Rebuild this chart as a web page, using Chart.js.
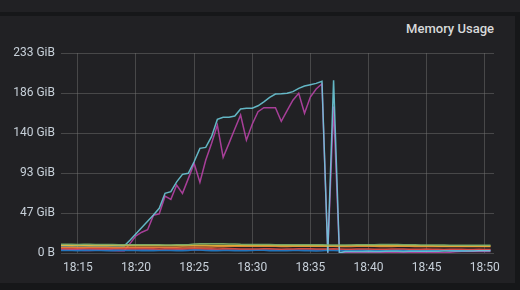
<!DOCTYPE html>
<html>
<head>
<meta charset="utf-8">
<script src="https://cdn.jsdelivr.net/npm/chart.js@4/dist/chart.umd.min.js"></script>
<style>
  html,body{margin:0;padding:0;background:#161719;width:520px;height:290px;overflow:hidden;}
  #topband{position:absolute;left:0;top:0;width:520px;height:12px;background:#212124;}
  #panel{position:absolute;left:0;top:16px;width:515px;height:267px;background:#212124;}
  #title{position:absolute;right:26px;top:21px;font-family:Roboto,"Noto Sans",sans-serif;font-size:13px;font-weight:500;color:#d8d9da;}
  #wrap{position:absolute;left:0;top:0;width:520px;height:290px;}
</style>
</head>
<body>
<div id="topband"></div>
<div id="panel"></div>
<div id="title">Memory Usage</div>
<div id="wrap"><canvas id="c" width="520" height="290"></canvas></div>
<script>
// sample times (30 s scrape interval)
const times = [
 '18:13:30','18:14:00','18:14:30','18:15:00','18:15:30','18:16:00','18:16:30','18:17:00','18:17:30','18:18:00',
 '18:18:30','18:19:00','18:19:30','18:20:00','18:20:30','18:21:00','18:21:30','18:22:00','18:22:30','18:23:00',
 '18:23:30','18:24:00','18:24:30','18:25:00','18:25:30','18:26:00','18:26:30','18:27:00','18:27:30','18:28:00',
 '18:28:30','18:29:00','18:29:30','18:30:00','18:30:30','18:31:00','18:31:30','18:32:00','18:32:30','18:33:00',
 '18:33:30','18:34:00','18:34:30','18:35:00','18:35:30','18:36:00','18:36:30','18:37:00','18:37:30','18:38:00',
 '18:38:30','18:39:00','18:39:30','18:40:00','18:40:30','18:41:00','18:41:30','18:42:00','18:42:30','18:43:00',
 '18:43:30','18:44:00','18:44:30','18:45:00','18:45:30','18:46:00','18:46:30','18:47:00','18:47:30','18:48:00',
 '18:48:30','18:49:00','18:49:30','18:50:00','18:50:30'
];
const tickLabels = ['18:15','18:20','18:25','18:30','18:35','18:40','18:45','18:50'];
const yTicksGB = [0, 50, 100, 150, 200, 250]; // decimal GB, shown in GiB

// memory usage per series, in GB (1e9 bytes)
const seriesA = [ // green
 10.8,10.9,10.8,10.7,10.8,10.8,10.7,10.6,10.6,10.5,10.4,10.4,10.3,10.3,10.2,10.2,10.3,10.2,10.1,10.1,10.2,10.3,10.4,
 11.4,11.6,11.7,11.6,11.5,11.5,11.4,11.2,
 10.8,10.7,10.6,10.6,10.5,10.5,10.4,10.4,10.4,10.3,10.3,10.3,10.2,10.2,10.2,10.1,10.1,10.0,10.0,10.1,10.2,10.3,10.4,10.4,
 10.5,10.6,10.6,10.5,10.4,10.3,10.2,10.1,10.0,10.0,9.9,9.9,9.8,9.8,9.8,9.7,9.7,9.7,9.6,9.6
];
const seriesB = [ // yellow
 9.6,9.6,9.5,9.5,9.5,9.4,9.4,9.4,9.5,9.5,9.4,9.4,9.4,9.3,9.3,9.3,9.4,9.4,9.4,9.5,9.5,9.5,9.6,9.6,9.6,
 9.6,9.5,9.5,9.5,9.4,9.4,9.4,9.4,9.3,9.3,9.3,9.3,9.3,9.2,9.2,9.2,9.2,9.2,9.2,9.1,9.1,9.1,9.1,9.2,9.2,
 9.3,9.3,9.3,9.3,9.2,9.2,9.2,9.1,9.1,9.1,9.0,9.0,9.0,9.0,9.0,8.9,8.9,8.9,8.9,8.9,8.8,8.8,8.8,8.8,8.8
];
const seriesC = [ // teal
 9.2,9.2,9.1,9.2,9.3,9.2,9.2,9.1,9.2,9.2,9.2,
 9.1,16.2,24.2,32.0,39.6,47.5,55.8,74.6,76.7,89.0,98.3,99.6,114.0,130.8,132.0,145.4,167.0,169.6,169.6,171.2,
 180.0,180.8,181.0,184.0,189.0,194.6,198.7,199.0,199.6,201.7,205.8,208.7,210.4,212.0,214.6,0.3,216.0,0.3,
 1.8,1.9,2.0,2.0,2.1,2.0,2.0,2.1,2.2,2.1,2.0,2.1,2.2,2.2,2.3,2.2,2.3,2.4,2.4,2.5,2.5,2.6,2.6,2.7,2.8,2.8
];
const seriesD = [ // orange
 7.2,7.1,7.1,7.0,7.0,7.1,7.2,7.2,7.1,7.0,7.0,7.1,7.1,7.2,7.2,7.3,7.3,7.2,7.2,7.3,7.3,7.4,7.4,7.5,7.5,
 7.6,7.6,7.7,7.8,8.2,8.3,8.3,8.3,8.4,8.4,8.3,8.3,8.3,8.2,8.2,8.3,8.3,8.4,8.4,8.4,8.3,8.3,8.3,8.2,8.2,
 8.2,8.3,8.3,8.3,8.3,8.2,8.2,8.2,8.3,8.3,8.3,8.2,8.2,8.2,8.2,8.1,8.1,8.1,8.1,8.1,8.0,8.0,8.0,8.0,8.0
];
const seriesE = [ // red
 5.6,5.4,5.3,5.5,5.8,5.6,5.3,5.2,5.4,5.6,5.5,5.3,5.2,5.4,5.6,5.5,5.3,5.1,5.2,5.4,5.5,5.3,5.6,5.9,5.6,
 5.4,5.2,5.0,5.2,5.4,5.3,5.1,5.0,4.9,5.1,5.3,5.2,5.0,4.8,4.9,5.1,5.3,5.4,5.2,5.0,4.9,5.1,5.2,5.0,4.8,
 4.7,4.9,5.1,5.0,4.8,4.7,4.8,5.0,5.1,4.9,4.7,4.6,4.8,4.9,4.8,4.6,4.5,4.7,4.8,4.6,4.5,4.5,4.6,4.5,4.5
];
const seriesF = [ // blue
 3.2,3.3,3.1,2.9,3.0,3.2,3.4,3.1,2.8,2.9,3.0,3.1,3.3,3.0,2.8,2.8,2.9,3.1,3.4,3.2,2.9,2.8,3.0,4.2,3.6,
 3.0,2.8,2.9,3.2,3.0,2.8,2.7,2.8,3.1,3.6,3.3,2.9,2.8,2.7,2.8,3.0,3.2,2.9,2.7,2.6,2.8,3.5,3.0,2.8,2.7,
 2.8,3.0,3.4,3.1,2.8,2.7,2.9,3.3,3.8,3.3,2.9,2.7,2.6,2.8,3.0,3.4,3.7,3.3,3.0,2.9,3.1,3.4,3.6,3.5,3.6
];
const seriesG = [ // magenta
 3.5,3.8,4.0,3.6,3.2,3.0,3.4,3.9,3.5,3.0,2.8,
 2.8,12.0,21.5,26.0,29.0,47.0,49.0,71.0,67.0,85.0,74.6,93.0,112.0,88.5,116.0,137.0,160.0,119.6,137.0,155.0,
 172.5,141.0,161.0,176.6,181.6,181.6,181.6,164.6,178.0,191.0,199.6,174.6,195.0,205.0,211.5,0.2,183.0,0.2,
 0.3,0.3,0.3,0.3,0.3,0.3,0.3,0.3,0.3,0.3,0.3,0.3,0.3,0.3,0.3,0.3,0.3,0.3,1.0,1.6,1.8,1.8,1.8,1.8,1.9,1.9
];
const seriesH = [ // purple
 4.2,4.1,4.0,4.1,4.2,4.1,4.0,3.9,4.0,4.1,4.1,4.0,3.9,3.9,4.0,4.1,4.0,3.9,3.8,3.9,4.0,4.0,3.9,3.8,3.8,
 3.9,4.0,3.9,3.8,3.7,3.8,3.9,3.9,3.8,3.7,3.7,3.8,3.8,3.7,3.6,3.7,3.8,3.7,3.6,3.6,3.7,3.7,3.6,3.6,3.5,
 3.6,3.7,3.6,3.5,3.5,3.6,3.6,3.5,3.4,3.5,3.6,3.5,3.4,3.4,3.5,3.5,3.4,3.3,3.4,3.5,3.4,3.3,3.3,3.4,3.4
];

const seriesList = [
  {name:'A', data:seriesA, color:'rgba(126,178,109,0.9)'},
  {name:'B', data:seriesB, color:'rgba(234,184,57,0.9)'},
  {name:'C', data:seriesC, color:'rgba(110,208,224,0.85)'},
  {name:'D', data:seriesD, color:'rgba(239,132,60,0.9)'},
  {name:'E', data:seriesE, color:'rgba(226,77,66,0.9)'},
  {name:'F', data:seriesF, color:'rgba(31,120,193,0.95)'},
  {name:'G', data:seriesG, color:'rgba(186,67,169,0.88)'},
  {name:'H', data:seriesH, color:'rgba(112,93,160,0.9)'}
];

function toMin(s){ const p=s.split(':').map(Number); return (p[0]-18)*60 + p[1] + (p[2]||0)/60 - 15; }
const xs = times.map(toMin);
const tickPos = tickLabels.map(toMin);

const datasets = seriesList.map(s => ({
  label: s.name,
  data: s.data.map((v,i)=>({x:xs[i], y:v})),
  borderColor: s.color,
  backgroundColor: s.color,
  borderWidth: 1.5,
  pointRadius: 0,
  tension: 0,
  fill: false
}));

const gridColor = 'rgba(120,120,120,0.45)';
const tickColor = '#c7d0d9';
const font = {family:'Roboto, "Noto Sans", sans-serif', size:12};

new Chart(document.getElementById('c'), {
  type:'line',
  data:{datasets},
  options:{
    responsive:false,
    animation:false,
    layout:{padding:{top:53,right:26,bottom:6,left:0}},
    plugins:{legend:{display:false}, tooltip:{enabled:false}},
    scales:{
      x:{
        type:'linear', min:-1.45, max:35.8,
        afterBuildTicks:(sc)=>{ sc.ticks = tickPos.map(v=>({value:v})); },
        afterFit:(sc)=>{ sc.height = 31; },
        ticks:{color:tickColor, font, padding:8, maxRotation:0, autoSkip:false,
          callback:(v)=>{ const i = tickPos.findIndex(t=>Math.abs(t-v)<1e-6); return i>=0 ? tickLabels[i] : ''; }},
        grid:{color:gridColor, drawTicks:false, lineWidth:1},
        border:{display:false}
      },
      y:{
        min:0, max:250,
        afterBuildTicks:(sc)=>{ sc.ticks = yTicksGB.map(v=>({value:v})); },
        afterFit:(sc)=>{ sc.width = 61; },
        ticks:{color:tickColor, font, padding:6,
          callback:(v)=> v===0 ? '0 B' : Math.round(v*1e9/1073741824)+' GiB'},
        grid:{color:gridColor, drawTicks:false, lineWidth:1},
        border:{display:false}
      }
    }
  }
});
</script>
</body>
</html>
